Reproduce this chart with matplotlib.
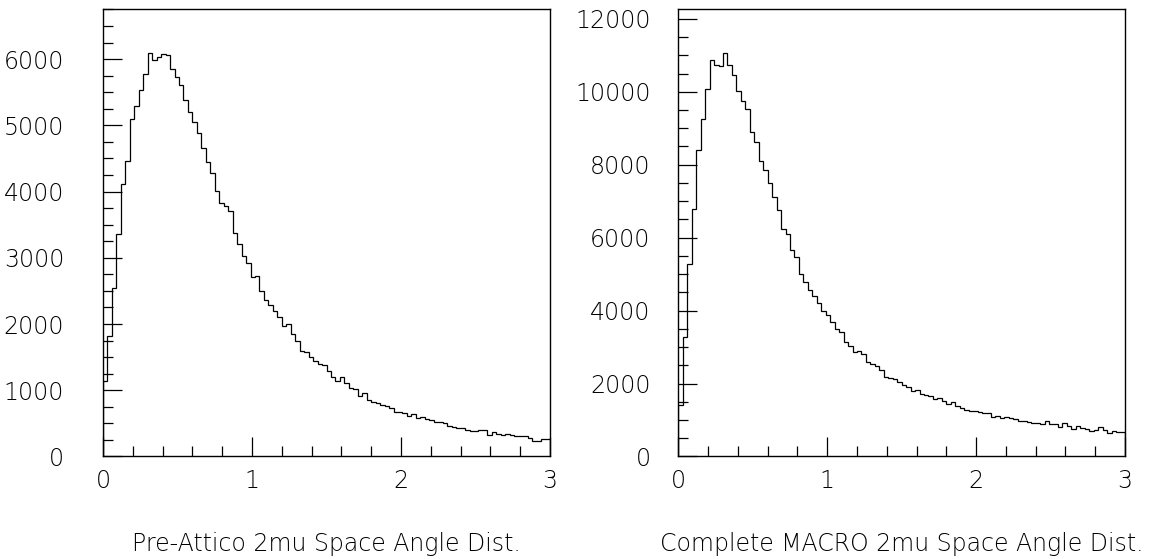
import numpy as np
import matplotlib
matplotlib.use('Agg')
import matplotlib.pyplot as plt
import matplotlib.ticker as mtick

# space angle histograms, 100 bins from 0 to 3
angle_lo = 0.0
angle_hi = 3.0
n_bins = 100

pre_attico = [1135, 1815, 2550, 3355, 4110, 4465, 5090, 5290, 5530, 5770,
              6090, 5985, 6035, 6075, 6060, 5845, 5728, 5610, 5385, 5205,
              5050, 4880, 4663, 4441, 4275, 4013, 3827, 3787, 3711, 3379,
              3203, 3026, 2926, 2714, 2724, 2503, 2362, 2290, 2190, 2110,
              1968, 1996, 1850, 1746, 1595, 1580, 1505, 1444, 1389, 1380,
              1293, 1203, 1137, 1193, 1112, 1027, 1020, 915, 952, 850,
              825, 812, 775, 768, 725, 674, 668, 650, 609, 639,
              584, 594, 563, 548, 523, 523, 508, 463, 448, 432,
              432, 397, 382, 382, 397, 397, 322, 377, 332, 322,
              337, 322, 307, 312, 312, 281, 236, 236, 266, 261]

complete_macro = [1405, 3277, 5291, 6792, 8403, 9263, 10069, 10874, 10728, 10709,
                  11076, 10728, 10453, 10014, 9748, 9519, 8897, 8622, 8101, 7844,
                  7506, 7121, 6746, 6243, 6087, 5660, 5475, 5010, 4775, 4565,
                  4410, 4200, 3998, 3880, 3697, 3487, 3410, 3135, 3030, 2865,
                  2892, 2810, 2600, 2536, 2481, 2371, 2171, 2161, 2116, 2052,
                  1960, 1897, 1805, 1823, 1713, 1686, 1659, 1567, 1595, 1531,
                  1439, 1503, 1385, 1339, 1275, 1257, 1257, 1229, 1180, 1205,
                  1093, 1111, 1047, 1074, 1047, 1019, 983, 974, 956, 910,
                  928, 891, 960, 882, 882, 818, 910, 846, 745, 837,
                  773, 745, 709, 727, 800, 727, 654, 709, 663, 663]

titles = ['Pre-Attico 2mu Space Angle Dist.', 'Complete MACRO 2mu Space Angle Dist.']
x_ticks = [0, 1, 2, 3]

plt.rcParams['font.family'] = ['DejaVu Sans']
plt.rcParams['font.weight'] = 'light'

fig = plt.figure(figsize=(11.73, 5.59), dpi=100)
ax_left = fig.add_axes([0.0878, 0.1834, 0.3811, 0.8005])
ax_right = fig.add_axes([0.5783, 0.1834, 0.3808, 0.8005])

edges = np.linspace(angle_lo, angle_hi, n_bins + 1)


def draw_hist(ax, counts, title, ymax, ymajor, yminor, ypad):
    ax.stairs(counts, edges, color='black', linewidth=0.9)
    ax.set_xlim(angle_lo, angle_hi)
    ax.set_ylim(0, ymax)

    ax.set_xticks(x_ticks)
    ax.xaxis.set_minor_locator(mtick.MultipleLocator(0.2))
    ax.yaxis.set_major_locator(mtick.MultipleLocator(ymajor))
    ax.yaxis.set_minor_locator(mtick.MultipleLocator(yminor))

    # PAW style: ticks pointing in, only left and bottom
    ax.tick_params(which='both', direction='in', top=False, right=False, width=0.9)
    ax.tick_params(which='major', length=14)
    ax.tick_params(which='minor', length=7)
    ax.tick_params(axis='x', which='major', labelsize=17, pad=9, labelcolor='black')
    ax.tick_params(axis='y', which='major', labelsize=17, pad=ypad, labelcolor='black')

    for spine in ax.spines.values():
        spine.set_linewidth(1.0)

    ax.set_xlabel(title, fontsize=17, fontweight='light', labelpad=28)


draw_hist(ax_left, pre_attico, titles[0], 6757, 1000, 250, 28)
draw_hist(ax_right, complete_macro, titles[1], 12270, 2000, 500, 20)

fig.savefig('out.png', dpi=100)
